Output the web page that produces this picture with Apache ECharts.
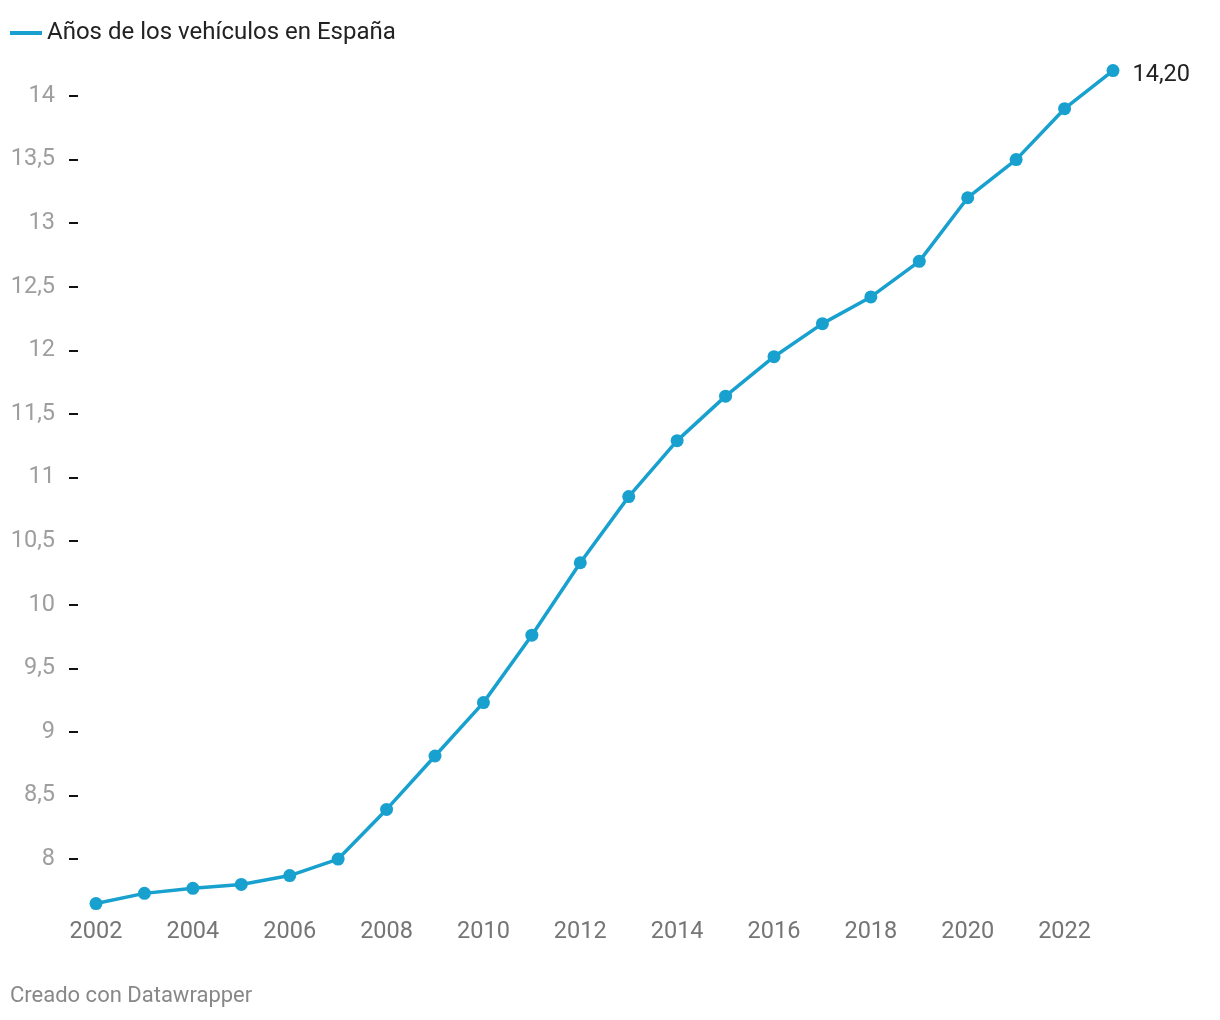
<!DOCTYPE html>
<html><head><meta charset="utf-8">
<script src="https://cdn.jsdelivr.net/npm/echarts@6/dist/echarts.min.js"></script>
<style>html,body{margin:0;padding:0;background:#fff}#c{width:1220px;height:1020px}</style>
</head><body><div id="c"></div>
<script>
const years = ['2002','2003','2004','2005','2006','2007','2008','2009','2010','2011','2012','2013','2014','2015','2016','2017','2018','2019','2020','2021','2022','2023'];
const vehicleAge = [7.65,7.73,7.77,7.80,7.87,8.00,8.39,8.81,9.23,9.76,10.33,10.85,11.29,11.64,11.95,12.21,12.42,12.70,13.20,13.50,13.90,14.20];
const yTicks = [8,8.5,9,9.5,10,10.5,11,11.5,12,12.5,13,13.5,14];
const seriesName = 'Años de los vehículos en España';

const color = '#18a1cf';
const chart = echarts.init(document.getElementById('c'), null, {renderer:'canvas'});
chart.setOption({
  animation:false,
  textStyle:{fontFamily:'Roboto'},
  legend:{
    left:5, top:16, icon:'rect', itemWidth:32, itemHeight:4, itemGap:6,
    textStyle:{fontSize:24, color:'#222', fontFamily:'Roboto'},
    data:[seriesName]
  },
  grid:{left:96, right:107, top:57.85, bottom:1020-909.9},
  xAxis:{
    type:'category', data:years, boundaryGap:false,
    axisLine:{show:false}, axisTick:{show:false},
    axisLabel:{interval:1, color:'#757575', fontSize:23.5, margin:10, fontFamily:'Roboto'}
  },
  yAxis:{
    type:'value', min:7.6, max:14.3, offset:18,
    splitLine:{show:false},
    axisLine:{show:false},
    axisTick:{show:true, length:9, customValues:yTicks, lineStyle:{color:'#111', width:2}},
    axisLabel:{customValues:yTicks, color:'#9e9e9e', fontSize:23.5, margin:23, fontFamily:'Roboto',
      formatter:v=>String(v).replace('.',',')}
  },
  series:[{
    name:seriesName, type:'line', data:vehicleAge,
    symbol:'circle', symbolSize:13, showAllSymbol:true,
    lineStyle:{color:color, width:3.5}, itemStyle:{color:color},
    label:{show:true, position:'right', distance:13, offset:[0,5], fontSize:23.5, color:'#222', fontFamily:'Roboto',
      formatter:p=>p.dataIndex===vehicleAge.length-1 ? p.value.toFixed(2).replace('.',',') : ''}
  }],
  graphic:[{type:'text', left:10, top:985, style:{text:'Creado con Datawrapper', fill:'#888', fontSize:22, fontFamily:'Roboto'}}]
});
</script></body></html>
